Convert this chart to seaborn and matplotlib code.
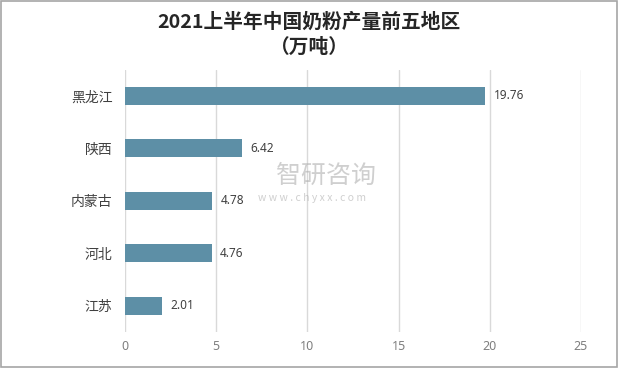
import matplotlib
matplotlib.use("Agg")
import matplotlib.pyplot as plt
import seaborn as sns
import pandas as pd

regions = ["黑龙江", "陕西", "内蒙古", "河北", "江苏"]
values = [19.76, 6.42, 4.78, 4.76, 2.01]
x_ticks = [0, 5, 10, 15, 20, 25]
title_1 = "2021上半年中国奶粉产量前五地区"
title_2 = "（万吨）"

sns.set_theme(style="white")
plt.rcParams['font.family'] = ['Noto Sans CJK SC', 'DejaVu Sans']

df = pd.DataFrame({"region": regions, "value": values})

fig = plt.figure(figsize=(6.18, 3.68), dpi=100)
ax = fig.add_axes([0.2023, 0.0978, 0.7378, 0.7127])

sns.barplot(data=df, x="value", y="region", order=regions, color="#5d8fa6",
            width=0.345, ax=ax, saturation=1, zorder=3, linewidth=0)

ax.set_xlim(0, 25)
ax.set_ylim(4.5, -0.5)
ax.set_xticks(x_ticks)
ax.set_xticklabels([str(t) for t in x_ticks], fontsize=9, color="#7f7f7f",
                   family=['Noto Sans'])
ax.tick_params(axis="y", labelsize=10, labelcolor="#404040", length=0, pad=9)
ax.tick_params(axis="x", length=0, pad=6)
ax.set_xlabel("")
ax.set_ylabel("")
ax.grid(axis="x", color="#d9d9d9", linewidth=1, zorder=0)
for s in ax.spines.values():
    s.set_visible(False)

for i, v in enumerate(values):
    ax.annotate(f"{v:.2f}", xy=(v, i), xytext=(6, 0), textcoords="offset points",
                va="center", ha="left", fontsize=8.5, color="#404040",
                family=['Noto Sans'])

fig.text(0.5, 0.94, title_1, ha="center", va="center", fontsize=14.2,
         fontweight="bold", color="#262626")
fig.text(0.5, 0.872, title_2, ha="center", va="center", fontsize=14.2,
         fontweight="bold", color="#262626")

# watermark
fig.text(0.527, 0.522, "智研咨询", ha="center", va="center", fontsize=18,
         color="#b0b0b0", alpha=0.6)
fig.text(0.505, 0.462, "w w w . c h y x x . c o m", ha="center", va="center",
         fontsize=7.5, color="#b0b0b0", alpha=0.6)

border = plt.Rectangle((0.002, 0.003), 0.996, 0.994, transform=fig.transFigure,
                       fill=False, edgecolor="#a6a6a6", linewidth=1.2)
fig.patches.append(border)

fig.savefig("out.png", dpi=100)
